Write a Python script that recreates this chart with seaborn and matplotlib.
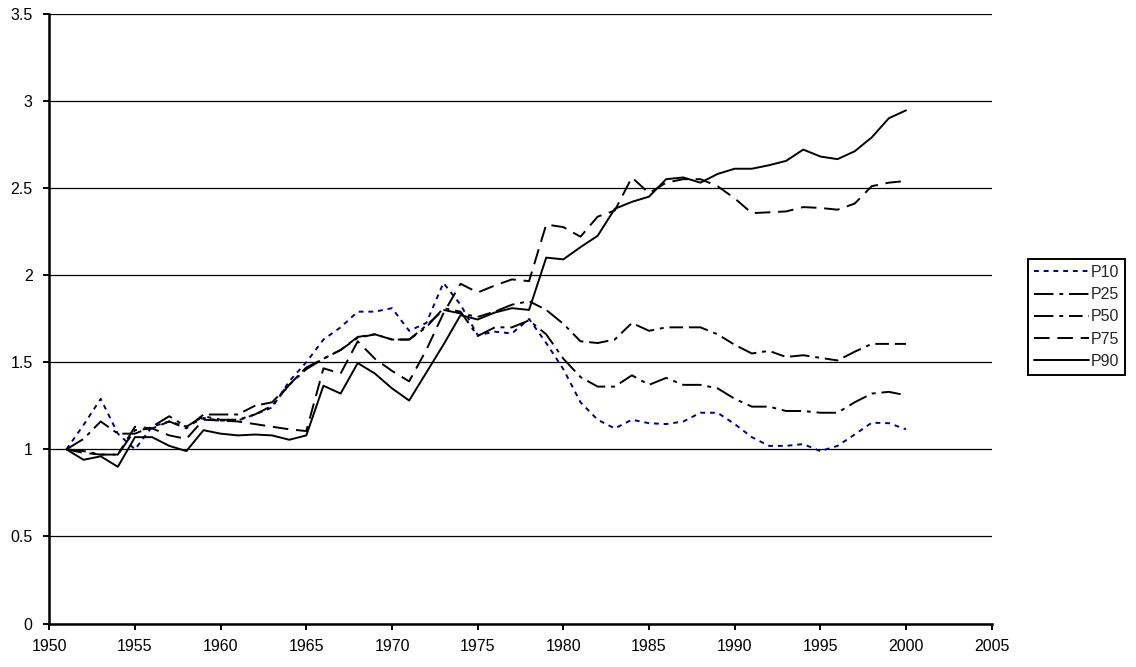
import numpy as np
import pandas as pd
import matplotlib
matplotlib.use("Agg")
import matplotlib.pyplot as plt
import seaborn as sns
from matplotlib.ticker import MultipleLocator, FuncFormatter

years = list(range(1951, 2001))

p10 = [1.00, 1.14, 1.29, 1.09, 1.00, 1.13, 1.16, 1.13, 1.18, 1.165,
       1.165, 1.20, 1.24, 1.39, 1.50, 1.63, 1.70, 1.79, 1.79, 1.81,
       1.68, 1.725, 1.955, 1.83, 1.655, 1.675, 1.665, 1.748, 1.61, 1.46,
       1.27, 1.17, 1.12, 1.17, 1.15, 1.145, 1.16, 1.21, 1.21, 1.145,
       1.07, 1.02, 1.02, 1.03, 0.99, 1.02, 1.085, 1.153, 1.15, 1.115]

p25 = [1.00, 1.06, 1.16, 1.09, 1.09, 1.13, 1.19, 1.13, 1.19, 1.17,
       1.17, 1.20, 1.25, 1.37, 1.46, 1.52, 1.57, 1.64, 1.66, 1.63,
       1.63, 1.70, 1.81, 1.79, 1.65, 1.70, 1.70, 1.74, 1.66, 1.52,
       1.415, 1.36, 1.36, 1.425, 1.37, 1.41, 1.37, 1.37, 1.35, 1.29,
       1.245, 1.245, 1.22, 1.22, 1.21, 1.21, 1.27, 1.32, 1.33, 1.31]

p50 = [1.00, 0.99, 0.97, 0.97, 1.11, 1.12, 1.16, 1.12, 1.20, 1.20,
       1.20, 1.25, 1.27, 1.37, 1.47, 1.52, 1.57, 1.645, 1.66, 1.63,
       1.63, 1.71, 1.80, 1.78, 1.76, 1.79, 1.83, 1.85, 1.80, 1.72,
       1.62, 1.61, 1.63, 1.725, 1.68, 1.70, 1.70, 1.70, 1.66, 1.60,
       1.55, 1.565, 1.53, 1.54, 1.525, 1.51, 1.56, 1.605, 1.605, 1.605]

p75 = [1.00, 0.98, 0.97, 0.97, 1.13, 1.12, 1.08, 1.06, 1.17, 1.165,
       1.16, 1.145, 1.13, 1.115, 1.105, 1.465, 1.435, 1.62, 1.52, 1.45,
       1.39, 1.57, 1.78, 1.95, 1.90, 1.94, 1.975, 1.965, 2.29, 2.275,
       2.22, 2.335, 2.37, 2.56, 2.47, 2.53, 2.55, 2.55, 2.51, 2.44,
       2.355, 2.36, 2.365, 2.39, 2.385, 2.375, 2.41, 2.51, 2.53, 2.54]

p90 = [1.00, 0.94, 0.96, 0.90, 1.07, 1.07, 1.02, 0.99, 1.11, 1.09,
       1.08, 1.085, 1.08, 1.055, 1.08, 1.365, 1.32, 1.495, 1.435, 1.35,
       1.28, 1.44, 1.60, 1.77, 1.745, 1.785, 1.81, 1.80, 2.10, 2.09,
       2.16, 2.225, 2.38, 2.42, 2.45, 2.55, 2.56, 2.53, 2.58, 2.61,
       2.61, 2.63, 2.655, 2.72, 2.68, 2.665, 2.71, 2.79, 2.90, 2.945]

series = ["P10", "P25", "P50", "P75", "P90"]

df = pd.DataFrame({"year": years, "P10": p10, "P25": p25, "P50": p50,
                   "P75": p75, "P90": p90})
long_df = df.melt(id_vars="year", var_name="series", value_name="value")

sns.set_style("white")
plt.rcParams["font.family"] = ["Liberation Sans", "DejaVu Sans"]

colors = {"P10": "#000080", "P25": "black", "P50": "black",
          "P75": "black", "P90": "black"}
dash_styles = {"P10": (2.5, 2.5), "P25": (10, 3, 2, 3),
               "P50": (10, 3, 2, 3, 7, 3), "P75": (8, 4), "P90": ""}

fig, ax = plt.subplots(figsize=(11.36, 6.67), dpi=100)
fig.subplots_adjust(left=0.0434, right=0.873, bottom=0.065, top=0.9796)

sns.lineplot(data=long_df, x="year", y="value", hue="series", style="series",
             hue_order=series, style_order=series, palette=colors,
             dashes=dash_styles, linewidth=1.4, ax=ax)

ax.set_xlim(1950, 2005)
ax.set_ylim(0, 3.5)
ax.xaxis.set_major_locator(MultipleLocator(5))
ax.yaxis.set_major_locator(MultipleLocator(0.5))
ax.yaxis.set_major_formatter(FuncFormatter(lambda v, _: f"{v:g}"))
ax.set_xlabel("")
ax.set_ylabel("")

ax.yaxis.grid(True, color="black", linewidth=0.9)
ax.set_axisbelow(True)
for side in ["top", "right"]:
    ax.spines[side].set_visible(False)
for side in ["left", "bottom"]:
    ax.spines[side].set_color("black")
    ax.spines[side].set_linewidth(1.8)
ax.tick_params(axis="both", direction="out", length=4, width=1.4,
               color="black", labelsize=11.5, labelcolor="black",
               left=True, bottom=True)
ax.tick_params(axis="x", pad=7)
ax.tick_params(axis="y", pad=8)

handles, labels = ax.get_legend_handles_labels()
ax.legend(handles, labels, loc="center left", bbox_to_anchor=(0.905, 0.525),
          bbox_transform=fig.transFigure, frameon=True, fancybox=False,
          edgecolor="black", framealpha=1, fontsize=11.5, handlelength=3.4,
          handletextpad=0.1, labelspacing=0.45, borderpad=0.4,
          borderaxespad=0)
ax.get_legend().get_frame().set_linewidth(1.4)

fig.savefig("out.png", dpi=100)
